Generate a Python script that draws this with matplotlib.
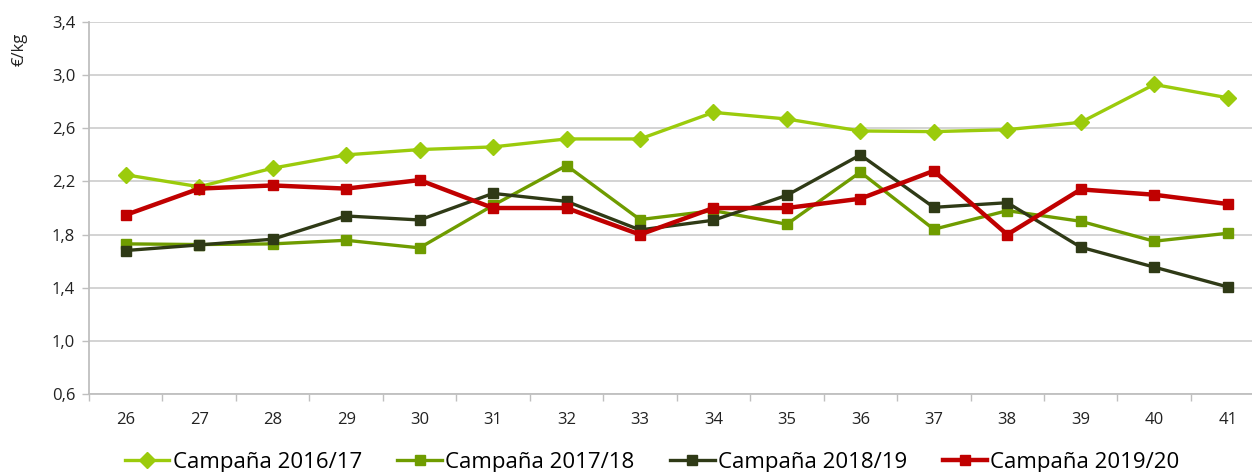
import numpy as np
import matplotlib.pyplot as plt

plt.rcParams['font.family'] = ['Open Sans', 'DejaVu Sans']

semanas = ['26', '27', '28', '29', '30', '31', '32', '33', '34', '35', '36', '37', '38', '39', '40', '41']
c2016 = [2.25, 2.16, 2.30, 2.40, 2.44, 2.46, 2.52, 2.52, 2.72, 2.67, 2.58, 2.575, 2.59, 2.645, 2.93, 2.83]
c2017 = [1.73, 1.725, 1.73, 1.757, 1.70, 2.02, 2.32, 1.913, 1.98, 1.878, 2.27, 1.84, 1.98, 1.90, 1.75, 1.81]
c2018 = [1.68, 1.722, 1.765, 1.94, 1.91, 2.11, 2.05, 1.835, 1.908, 2.096, 2.40, 2.005, 2.04, 1.705, 1.555, 1.406]
c2019 = [1.948, 2.146, 2.17, 2.146, 2.21, 2.00, 2.00, 1.80, 2.00, 2.00, 2.07, 2.28, 1.80, 2.14, 2.10, 2.03]
y_ticks = [0.6, 1.0, 1.4, 1.8, 2.2, 2.6, 3.0, 3.4]

fig = plt.figure(figsize=(12.52, 4.72), dpi=100)
ax = fig.add_axes([0.0711, 0.1653, 0.9388, 0.788])
x = np.arange(len(semanas))

ax.plot(x, c2016, color='#9BCB0C', lw=2.4, marker='D', ms=8, label='Campaña 2016/17')
ax.plot(x, c2017, color='#6F9C00', lw=2.4, marker='s', ms=7, label='Campaña 2017/18')
ax.plot(x, c2018, color='#2F3A16', lw=2.4, marker='s', ms=7, label='Campaña 2018/19')
ax.plot(x, c2019, color='#C00000', lw=3.2, marker='s', ms=7.5, label='Campaña 2019/20')

ax.set_ylim(0.6, 3.4)
ax.set_yticks(y_ticks)
ax.set_yticklabels([f'{v:.1f}'.replace('.', ',') for v in y_ticks])
ax.set_xlim(-0.5, len(semanas) - 0.5)
ax.set_xticks(x)
ax.set_xticklabels(semanas)
ax.set_xticks(np.arange(-0.5, len(semanas)), minor=True)
ax.tick_params(axis='x', which='major', length=0, pad=13, labelsize=12, colors='#222222')
ax.tick_params(axis='x', which='minor', length=5, color='#BFBFBF', width=1)
ax.tick_params(axis='y', length=5, color='#BFBFBF', width=1, pad=5, labelsize=12, labelcolor='#222222')

ax.grid(axis='y', color='#D0D0D0', lw=1.3)
ax.set_axisbelow(True)
for s in ['top', 'right']:
    ax.spines[s].set_visible(False)
for s in ['left', 'bottom']:
    ax.spines[s].set_color('#BFBFBF')
    ax.spines[s].set_linewidth(1.3)

fig.text(0.016, 0.895, '€/kg', rotation=90, ha='center', va='center', fontsize=12, color='#222222')

fig.legend(loc='center', bbox_to_anchor=(0.521, 0.02), ncol=4, frameon=False,
           fontsize=16, handlelength=2.0, handletextpad=0.15, columnspacing=1.6)

fig.savefig('out.png', dpi=100)
